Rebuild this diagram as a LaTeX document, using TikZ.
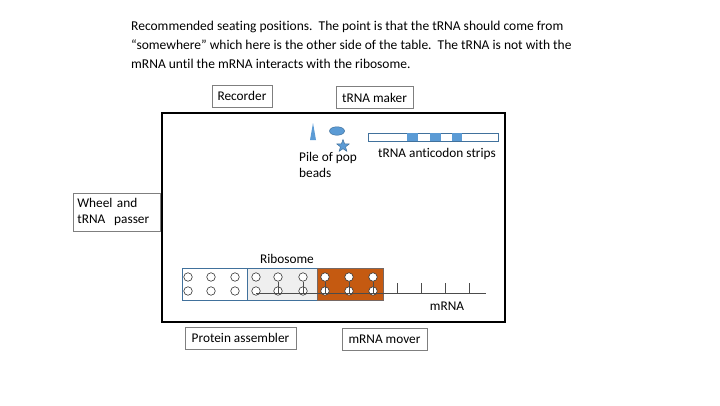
\documentclass[tikz,border=0pt]{standalone}
\usepackage{fontspec}
\setmainfont[RawFeature=-liga]{Carlito}
\usetikzlibrary{shapes.geometric}
\definecolor{lbl}{HTML}{7F7F7F}
\definecolor{bblue}{HTML}{5B9BD5}
\definecolor{dblue}{HTML}{41719C}
\definecolor{rorange}{HTML}{C55A11}
\definecolor{rgray}{HTML}{EFEFEF}
\tikzset{
  lab/.style={draw=lbl, line width=0.8pt, fill=white, inner sep=4pt, font=\fontsize{13.3}{16}\selectfont, align=left},
  txt/.style={inner sep=0pt, font=\fontsize{13.3}{16}\selectfont, align=left},
  ribobox/.style={draw=dblue, line width=0.8pt},
  bead/.style={circle, draw=black!80, fill=white, line width=0.6pt, minimum size=8.5pt, inner sep=0pt},
  thinline/.style={draw=black!70, line width=0.6pt},
  shp/.style={fill=bblue, draw=dblue, line width=0.5pt}
}
\begin{document}
\begin{tikzpicture}[x=1pt,y=-1pt]
\useasboundingbox (0,0) rectangle (720,405);
% title
\node[txt, anchor=north west, font=\fontsize{13.5}{18.8}\selectfont] (title) at (131,21)
 {Recommended seating positions.\ \ The point is that the tRNA should come from\\
  “somewhere” which here is the other side of the table.\ \ The tRNA is not with the\\
  mRNA until the mRNA interacts with the ribosome.};
% table frame
\draw[line width=2.4pt] (162,113) rectangle (505,322);
% labels
\node[lab, minimum width=60pt, minimum height=22pt, align=center] (rec) at (242,96) {Recorder};
\node[lab, minimum width=77pt, minimum height=22pt, align=center] (maker) at (374.5,97.5) {tRNA maker};
\node[lab, anchor=north west, text width=79pt, minimum height=38pt] (wheel) at (73,193) {Wheel and\\tRNA\ \ passer};
\node[lab, minimum width=111pt, minimum height=22pt, align=center] (prot) at (240.5,338) {Protein assembler};
\node[lab, minimum width=85pt, minimum height=22pt, align=center] (mover) at (384.5,339) {mRNA mover};
% pop beads shapes
\fill[bblue] (310,140) -- (316,140) -- (313,123) -- cycle;
\node[ellipse, shp, minimum width=15pt, minimum height=8.5pt, inner sep=0pt] (ell) at (337,131) {};
\node[star, star points=5, star point ratio=2.4, shp, minimum size=13pt, inner sep=0pt] (star) at (343,146) {};
\node[txt, anchor=north west, font=\fontsize{13.3}{16.5}\selectfont] (pile) at (299,152) {Pile of pop\\beads};
% tRNA anticodon strip
\draw[draw=dblue, fill=white, line width=0.8pt] (368,133) rectangle (498,141);
\fill[bblue] (407,133.4) rectangle (418,140.6);
\fill[bblue] (430,133.4) rectangle (441,140.6);
\fill[bblue] (452,133.4) rectangle (462,140.6);
\node[txt, anchor=center] (strips) at (437,154) {tRNA anticodon strips};
% ribosome
\draw[ribobox, fill=white] (182,268) rectangle (247,300);
\draw[ribobox, fill=rgray] (247,268) rectangle (317,300);
\draw[ribobox, draw=dblue!60!rorange, fill=rorange] (317,268) rectangle (383,300);
\node[txt] (ribo) at (287,259) {Ribosome};
\foreach \x [count=\i] in {188,211,235,256,278,303,325,349,373}{
  \node[bead] (t\i) at (\x,277) {};
  \node[bead] (b\i) at (\x,291) {};
}
% mRNA
\coordinate (mstart) at (256,293.5);
\coordinate (mend) at (486,293.5);
\draw[thinline] (mstart) -- (mend);
\foreach \i in {5,6,7,8,9}{
  \draw[thinline] (t\i.south) -- (t\i.south |- mstart);
}
\foreach \x in {397,421,445,469}{
  \draw[thinline] (\x,283) -- (\x,293.5);
}
\node[txt] (mrna) at (447,306) {mRNA};
\end{tikzpicture}
\end{document}
